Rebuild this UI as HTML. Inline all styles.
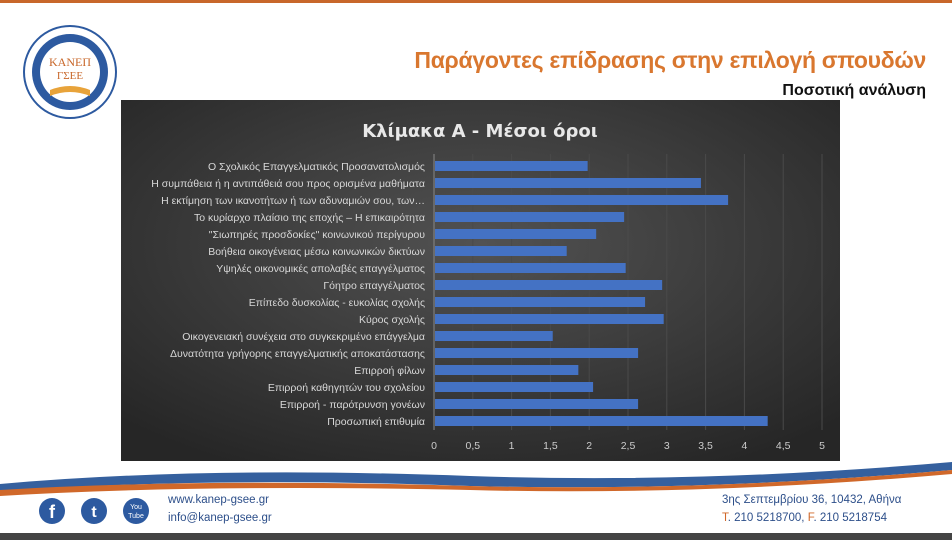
<!DOCTYPE html>
<html><head><meta charset="utf-8"><style>
body{margin:0;width:952px;height:540px;overflow:hidden;background:#fff;font-family:"Liberation Sans",sans-serif;position:relative}
.abs{position:absolute}
</style></head><body>
<div class="abs" style="left:0;top:0;width:952px;height:3px;background:#c8672a"></div>
<svg class="abs" style="left:22px;top:24px" width="96" height="96">
<circle cx="48" cy="48" r="46" fill="#fff" stroke="#2d5aa0" stroke-width="2"/>
<circle cx="48" cy="48" r="38" fill="#2d5aa0"/>
<circle cx="48" cy="48" r="30" fill="#fff"/>
<text x="48" y="42" font-size="12" fill="#c8672a" text-anchor="middle" font-family="Liberation Serif">ΚΑΝΕΠ</text>
<text x="48" y="55" font-size="11" fill="#c8672a" text-anchor="middle" font-family="Liberation Serif">ΓΣΕΕ</text>
<path d="M28 66 Q48 58 68 66 L68 72 Q48 64 28 72Z" fill="#e8a33a"/>
</svg>
<div class="abs" style="right:26px;top:47px;font-size:23px;font-weight:bold;color:#d9772f;white-space:nowrap;letter-spacing:-0.3px">Παράγοντες επίδρασης στην επιλογή σπουδών</div>
<div class="abs" style="right:26px;top:82px;font-size:16px;font-weight:bold;color:#111;white-space:nowrap">Ποσοτική ανάλυση</div>

<svg class="abs" style="left:121px;top:100px" width="719" height="361" id="chart">
<defs><radialGradient id="bg" cx="50%" cy="40%" r="70%"><stop offset="0" stop-color="#525252"/><stop offset="1" stop-color="#262626"/></radialGradient></defs>
<rect width="719" height="361" fill="url(#bg)"/>
<text x="359" y="37" font-size="18" font-weight="bold" fill="#e8e8e8" text-anchor="middle" font-family="DejaVu Sans">Κλίμακα Α - Μέσοι όροι</text>
<g id="g"></g>
</svg>
<script>
const categories=["Ο Σχολικός Επαγγελματικός Προσανατολισμός","Η συμπάθεια ή η αντιπάθειά σου προς ορισμένα μαθήματα","Η εκτίμηση των ικανοτήτων ή των αδυναμιών σου, των…","Το κυρίαρχο πλαίσιο της εποχής – Η επικαιρότητα","\"Σιωπηρές προσδοκίες\" κοινωνικού περίγυρου","Βοήθεια οικογένειας μέσω κοινωνικών δικτύων","Υψηλές οικονομικές απολαβές επαγγέλματος","Γόητρο επαγγέλματος","Επίπεδο δυσκολίας - ευκολίας σχολής","Κύρος σχολής","Οικογενειακή συνέχεια στο συγκεκριμένο επάγγελμα","Δυνατότητα γρήγορης επαγγελματικής αποκατάστασης","Επιρροή φίλων","Επιρροή καθηγητών του σχολείου","Επιρροή - παρότρυνση γονέων","Προσωπική επιθυμία"];
const values=[1.98,3.44,3.79,2.45,2.09,1.71,2.47,2.94,2.72,2.96,1.53,2.63,1.86,2.05,2.63,4.30];
const ticks=[0,0.5,1,1.5,2,2.5,3,3.5,4,4.5,5];
const tickLabels=["0","0,5","1","1,5","2","2,5","3","3,5","4","4,5","5"];
const NS="http://www.w3.org/2000/svg";
const g=document.getElementById('g');
const x=v=>313+v*77.6;
const y=i=>66+i*17;
function mk(t,a){const e=document.createElementNS(NS,t);for(const k in a)e.setAttribute(k,a[k]);g.appendChild(e);return e;}
ticks.forEach((t,i)=>{
 if(i>0){const l=mk('line',{x1:x(t),x2:x(t),y1:54,y2:330,stroke:'#4a4a4a','stroke-width':1});
 
 }
 const tx=mk('text',{x:x(t),y:349,'font-size':10.5,fill:'#ccc','text-anchor':'middle','font-family':'Liberation Sans'});
 tx.textContent=tickLabels[i];
 
 
});
const ax=mk('line',{x1:x(0),x2:x(0),y1:54,y2:330,stroke:'#888'});


categories.forEach((c,i)=>{
 const r=mk('rect',{x:x(0)+1,y:y(i)-5,width:x(values[i])-x(0)-1,height:10,fill:'#4472c4'});
 
 
 const t=mk('text',{x:304,y:y(i)+4,'font-size':10.5,fill:'#d8d8d8','text-anchor':'end','font-family':'Liberation Sans'});
 t.textContent=c;
 
 
});
</script>

<svg class="abs" style="left:0;top:462px" width="952" height="40">
<path d="M0 22 Q200 4 470 14 Q700 22 952 0 L952 8 Q700 30 470 24 Q200 14 0 30Z" fill="#35609e"/>
<path d="M0 28 Q200 16 470 24 Q700 30 952 8 L952 12 Q700 34 470 28 Q200 22 0 34Z" fill="#d0682a"/>
</svg>
<svg class="abs" style="left:38px;top:496px" width="115" height="30">
<circle cx="14" cy="15" r="13" fill="#2d5aa0"/><text x="14" y="22" font-size="18" font-weight="bold" fill="#fff" text-anchor="middle">f</text>
<circle cx="56" cy="15" r="13" fill="#2d5aa0"/><text x="56" y="21" font-size="16" font-weight="bold" fill="#fff" text-anchor="middle">t</text>
<circle cx="98" cy="15" r="13" fill="#2d5aa0"/><text x="98" y="13" font-size="7" fill="#fff" text-anchor="middle">You</text><text x="98" y="22" font-size="7" fill="#fff" text-anchor="middle">Tube</text>
</svg>
<div class="abs" style="left:168px;top:494px;font-size:11.5px;color:#2d4f8a">www.kanep-gsee.gr</div>
<div class="abs" style="left:168px;top:512px;font-size:11.5px;color:#2d4f8a">info@kanep-gsee.gr</div>
<div class="abs" style="left:722px;top:494px;font-size:11.5px;color:#2d4f8a">3ης Σεπτεμβρίου 36, 10432, Αθήνα</div>
<div class="abs" style="left:722px;top:512px;font-size:11.5px;color:#2d4f8a"><span style="color:#d0682a">T</span>. 210 5218700, <span style="color:#d0682a">F</span>. 210 5218754</div>
<div class="abs" style="left:0;top:533px;width:952px;height:7px;background:#444"></div>
</body></html>
